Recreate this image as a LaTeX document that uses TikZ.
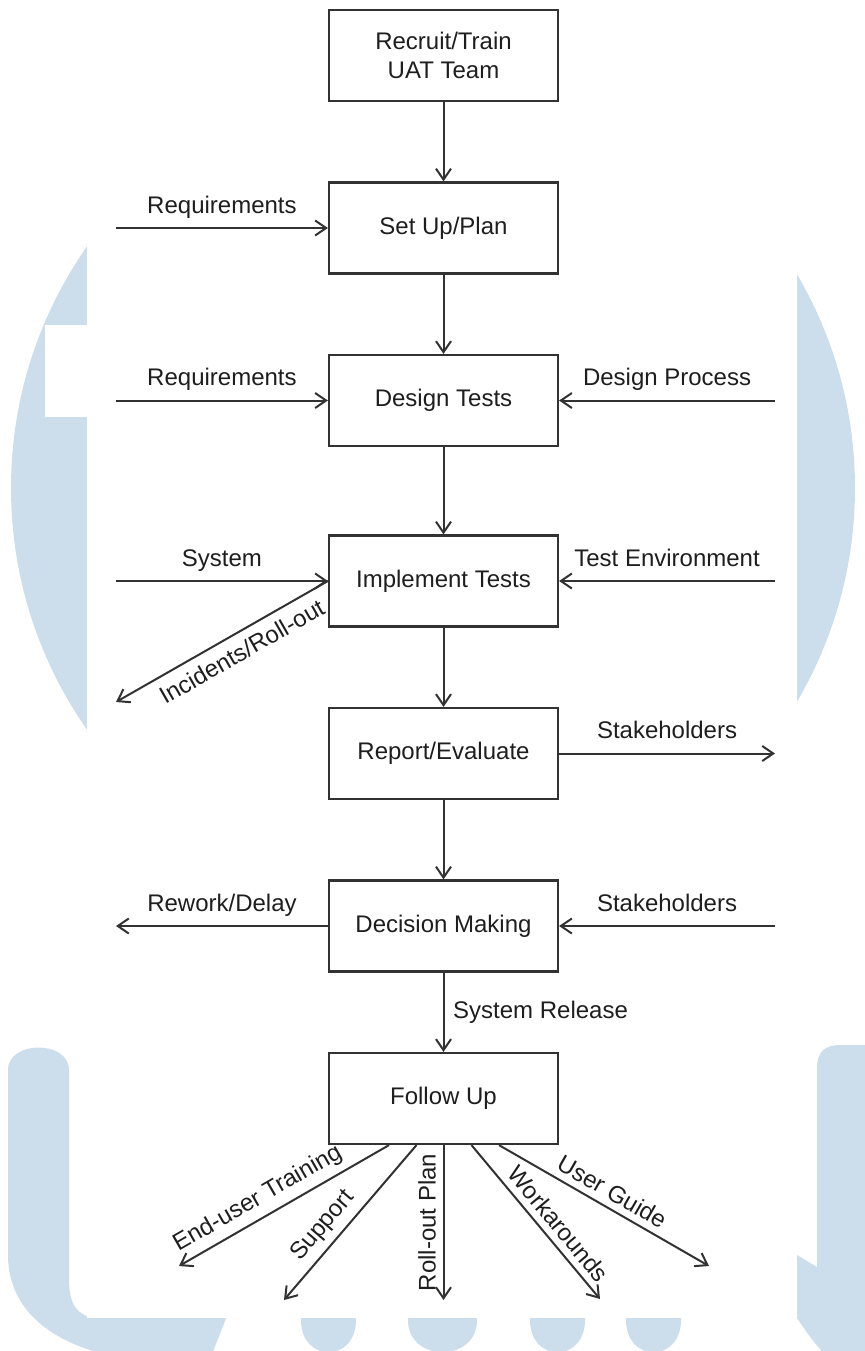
\documentclass[tikz,border=0pt]{standalone}
\usepackage{fontspec}
\setmainfont{Liberation Sans}
\usetikzlibrary{arrows.meta}
\definecolor{linegray}{RGB}{50,50,50}
\definecolor{textgray}{RGB}{30,30,30}
\definecolor{watermark}{RGB}{204,221,236}

\begin{document}
\begin{tikzpicture}[x=0.5pt, y=-0.5pt, node distance=86.25pt, >={Straight Barb[length=5.5pt,width=7.5pt]}, line width=1pt, color=linegray, text=textgray, font=\fontsize{12}{14.5}\selectfont,
  main node/.style={rectangle, draw, line width=1.1pt, minimum width=114.5pt, minimum height=45.5pt, align=center},
  edge label/.style={text depth=2.5pt}]
    \useasboundingbox (0,0) rectangle (865,1351);
    % watermark behind the chart
    \begin{scope}
        \clip (0,0) rectangle (865,1351);
        \fill[watermark] (433,488) circle[radius=422];
        \fill[white] (45,325) rectangle (87,417);
        \fill[watermark] (8,1255) -- (8,1070) .. controls (8,1040) and (69,1040) .. (69,1070) -- (69,1280)
            .. controls (69,1305) and (78,1316) .. (95,1318) -- (226,1318)
            .. controls (220,1335) and (215,1345) .. (210,1360) -- (135,1360)
            .. controls (60,1350) and (8,1315) .. (8,1255) -- cycle;
        \foreach \cx/\rx in {328.5/27.5, 442.5/34.5, 557.5/27.5, 653.5/27.5}
            \fill[watermark] ({\cx-\rx},1310) -- ({\cx-\rx},1320) .. controls ({\cx-\rx},1363) and ({\cx+\rx},1363) .. ({\cx+\rx},1320) -- ({\cx+\rx},1310) -- cycle;
        \fill[watermark] (870,1045) -- (840,1045) .. controls (825,1045) and (817,1052) .. (817,1068) -- (817,1267)
            -- (797,1255) -- (797,1318) .. controls (805,1330) and (815,1345) .. (830,1360) -- (870,1360) -- cycle;
    \end{scope}
    \fill[white] (87,0) rectangle (797,1318);

    % process boxes
    \node[main node] (recruit) at (443.5,55.5) {Recruit/Train\\UAT Team};
    \node[main node] (setup) [below of=recruit] {Set Up/Plan};
    \node[main node] (design) [below of=setup] {Design Tests};
    \node[main node, node distance=90.25pt] (implement) [below of=design] {Implement Tests};
    \node[main node] (report) [below of=implement] {Report/Evaluate};
    \node[main node] (decision) [below of=report] {Decision Making};
    \node[main node] (follow) [below of=decision] {Follow Up};

    % free ends
    \coordinate (req1) at (setup.west -| 116,0);
    \coordinate (req2) at (design.west -| 116,0);
    \coordinate (proc) at (design.east -| 775,0);
    \coordinate (system) at (implement.west -| 116,0);
    \coordinate (env) at (implement.east -| 775,0);
    \coordinate (incid) at (116,702);
    \coordinate (stake1) at (report.east -| 775,0);
    \coordinate (stake2) at (decision.east -| 775,0);
    \coordinate (rework) at (decision.west -| 116,0);
    \coordinate (train) at (179,1266);
    \coordinate (support) at (284,1300);
    \coordinate (rollout) at (443.5,1300);
    \coordinate (workaround) at (600,1299);
    \coordinate (guide) at (709,1266);

    \path[->]
    (recruit) edge (setup)
    (setup) edge (design)
    (design) edge (implement)
    (implement) edge (report)
    (report) edge (decision)
    (decision) edge node[edge label, right=1pt] {System Release} (follow);

    \path[->]
    (req1) edge node[edge label, above=1pt] {Requirements} (setup)
    (req2) edge node[edge label, above=1pt] {Requirements} (design)
    (proc) edge node[edge label, above=1pt] {Design Process} (design)
    (system) edge node[edge label, above=1pt] {System} (implement)
    (env) edge node[edge label, above=1pt] {Test Environment} (implement)
    (implement.west) edge node[sloped, below=1pt, pos=0.45] {Incidents/Roll-out} (incid)
    (report) edge node[edge label, above=1pt] {Stakeholders} (stake1)
    (stake2) edge node[edge label, above=1pt] {Stakeholders} (decision)
    (decision) edge node[edge label, above=1pt] {Rework/Delay} (rework);

    \path[->]
    ([xshift=-27.25pt]follow.south) edge node[sloped, above, pos=0.58] {End-user Training} (train)
    ([xshift=-13.5pt]follow.south) edge node[sloped, above, pos=0.6] {Support} (support)
    (follow) edge node[rotate=90, anchor=south, pos=0.5] {Roll-out Plan} (rollout)
    ([xshift=14pt]follow.south) edge node[sloped, above, pos=0.58] {Workarounds} (workaround)
    ([xshift=27.75pt]follow.south) edge node[sloped, above, pos=0.5] {User Guide} (guide);
\end{tikzpicture}
\end{document}
